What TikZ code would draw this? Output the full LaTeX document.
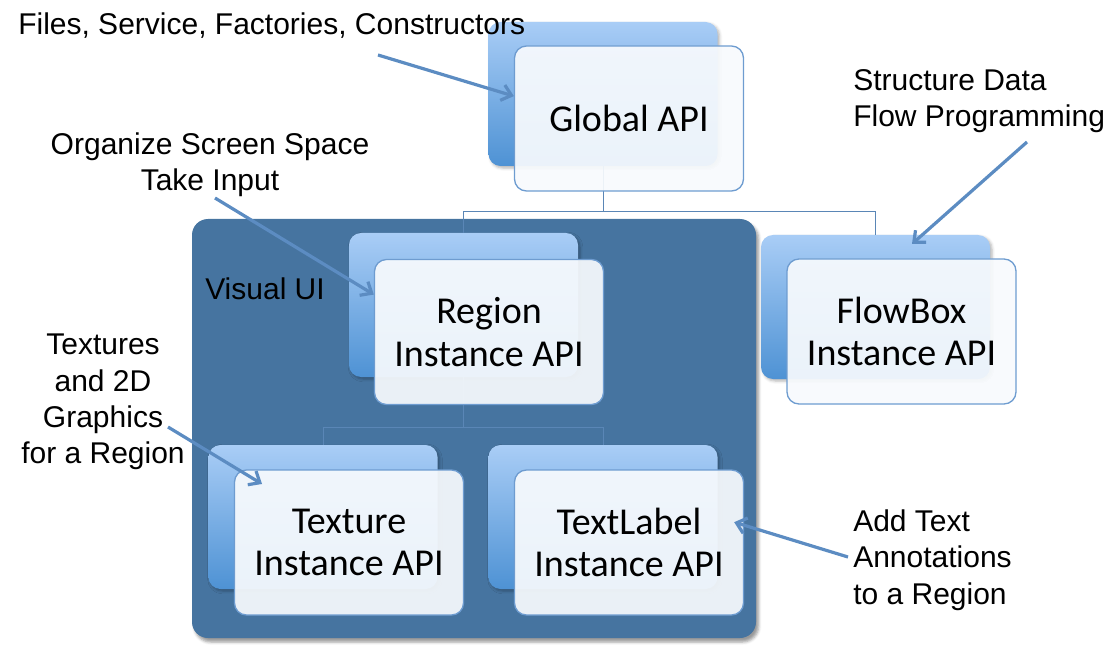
\documentclass[tikz,border=0pt]{standalone}
\usepackage{fontspec}
\setmainfont{Liberation Sans}
\newfontfamily\boxfont{Carlito}
\usetikzlibrary{arrows.meta,shadows.blur}

\definecolor{uiblue}{RGB}{70,116,160}
\definecolor{backtop}{RGB}{169,205,246}
\definecolor{backbot}{RGB}{78,146,212}
\definecolor{frontfill}{RGB}{247,250,253}
\definecolor{frontline}{RGB}{110,156,208}
\definecolor{arrowblue}{RGB}{92,140,194}
\definecolor{treeline}{RGB}{90,134,182}

\begin{document}
\begin{tikzpicture}[x=0.75pt,y=-0.75pt,
  backbox/.style={rounded corners=9pt,minimum width=171.75pt,minimum height=108pt,
    top color=backtop,bottom color=backbot,
    blur shadow={shadow xshift=1.5pt,shadow yshift=-1.5pt,shadow opacity=30}},
  frontbox/.style={rounded corners=9pt,minimum width=171.75pt,minimum height=108.75pt,
    fill=frontfill,fill opacity=0.93,text opacity=1,draw=frontline,line width=1pt,
    align=center,font=\boxfont\fontsize{28.5}{32}\selectfont},
  note/.style={inner sep=0pt,font=\fontsize{22.5}{27.3}\selectfont},
  pointer/.style={draw=arrowblue,line width=2.4pt,-{Straight Barb[length=7pt,width=12pt]}},
  tree/.style={draw=treeline,line width=0.75pt}]

\useasboundingbox (0,0) rectangle (1118,649);

% Visual UI panel
\node[fill=uiblue,rounded corners=12pt,minimum width=423pt,minimum height=314.25pt,
  blur shadow={shadow xshift=2pt,shadow yshift=-3pt,shadow opacity=40}] (vui) at (474,428.5) {};
\node[note,anchor=west] (vuilabel) at (205,289) {Visual UI};

% back boxes
\node[backbox] (gback) at (603,94) {};
\node[backbox] (rback) at (463.5,305) {};
\node[backbox] (fback) at (875.5,307) {};
\node[backbox] (tback) at (323,517) {};
\node[backbox] (lback) at (603,517) {};

% tree
\draw[tree] (gback.south) -- ++(0,45) -| (rback.north);
\draw[tree] (gback.south) -- ++(0,45) -| (fback.north);
\draw[tree] (rback.south) -- ++(0,50) -| (tback.north);
\draw[tree] (rback.south) -- ++(0,50) -| (lback.north);

% front boxes
\node[frontbox] (gapi) at (629,118.5) {Global API};
\node[frontbox] (rapi) at (489,332) {Region\\Instance API};
\node[frontbox] (fapi) at (901.5,331.5) {FlowBox\\Instance API};
\node[frontbox] (tapi) at (349,542.5) {Texture\\Instance API};
\node[frontbox] (lapi) at (629,542.5) {TextLabel\\Instance API};

% notes
\node[note,anchor=west] (files) at (18,26) {Files, Service, Factories, Constructors};
\node[note,align=center] (org) at (210,165) {Organize Screen Space\\Take Input};
\node[note,align=left,anchor=west] (struct) at (853,101) {Structure Data\\Flow Programming};
\node[note,align=center] (tex) at (103,402) {Textures\\and 2D\\Graphics\\for a Region};
\node[note,align=left,anchor=west] (add) at (853,560) {Add Text\\Annotations\\to a Region};

% pointers
\coordinate (files-tail) at (378,55);
\coordinate (org-tail) at (215,198);
\coordinate (struct-tail) at (1027,142);
\coordinate (tex-tail) at (168,427);
\coordinate (add-tail) at (848,557);
\coordinate (flow-head) at (912,244);
\coordinate (tex-head) at (262,484);
\draw[pointer] (files-tail) -- (gapi.169);
\draw[pointer] (org-tail) -- (rapi.162);
\draw[pointer] (struct-tail) -- (flow-head);
\draw[pointer] (tex-tail) -- (tex-head);
\draw[pointer] (add-tail) -- ([xshift=-7.5pt]lapi.10);
\end{tikzpicture}
\end{document}
